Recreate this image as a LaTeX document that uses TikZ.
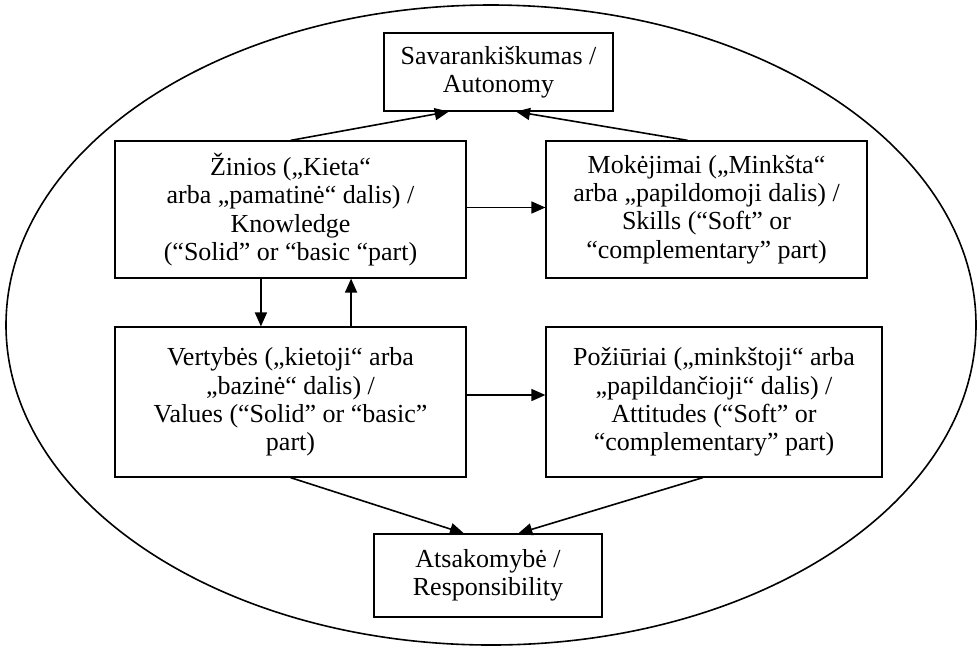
\documentclass[tikz,border=0pt]{standalone}
\usepackage{fontspec}
\setmainfont{Liberation Serif}
\usepackage{tikz}
\usetikzlibrary{arrows.meta,calc,positioning}

\begin{document}
\begin{tikzpicture}[
	x=0.5pt, y=-0.5pt,
	every node/.style={draw, line width=0.6pt, align=center, inner sep=2pt, font=\fontsize{13pt}{14.2pt}\selectfont},
	link/.style={line width=0.8pt, -{Triangle[length=7pt, width=6pt]}},
	oval/.style={line width=0.8pt}
	]
	\useasboundingbox (0,0) rectangle (980,650);
	\draw[oval] (491,325) ellipse [x radius=485, y radius=320];
	\node[minimum width=114.5pt, minimum height=39pt] (auto) at (498.5,72) {Savarankiškumas /\\Autonomy};
	\node[minimum width=175.5pt, minimum height=68.5pt] (know) at (290.5,209.5) {Žinios („Kieta“\\arba „pamatinė“ dalis) /\\Knowledge\\(“Solid” or “basic “part)};
	\node[minimum width=160.5pt, minimum height=68.5pt] (skill) at (706.5,209.5) {Mokėjimai („Minkšta“\\arba „papildomoji dalis) /\\Skills (“Soft” or\\“complementary” part)};
	\node[minimum width=175.5pt, minimum height=75pt] (value) at (290.5,402) {Vertybės („kietoji“ arba\\„bazinė“ dalis) /\\Values (“Solid” or “basic”\\part)};
	\node[minimum width=168pt, minimum height=75pt] (attit) at (714,402) {Požiūriai („minkštoji“ arba\\„papildančioji“ dalis) /\\Attitudes (“Soft” or\\“complementary” part)};
	\node[minimum width=114pt, minimum height=41.5pt] (resp) at (488,575.5) {Atsakomybė /\\Responsibility};
	\draw[link] (know.north) -- ($(auto.south west)!0.284!(auto.south east)$);
	\draw[link] ($(skill.north west)!0.442!(skill.north east)$) -- ($(auto.south west)!0.576!(auto.south east)$);
	\draw[link] ([yshift=1pt]know.east) -- ([yshift=1pt]skill.west);
	\draw[link] ($(know.south west)!0.416!(know.south east)$) -- ($(value.north west)!0.416!(value.north east)$);
	\draw[link] ($(value.north west)!0.672!(value.north east)$) -- ($(know.south west)!0.672!(know.south east)$);
	\draw[link] ([yshift=3.5pt]value.east) -- ([yshift=3.5pt]attit.west);
	\draw[link] (value.south) -- ($(resp.north west)!0.395!(resp.north east)$);
	\draw[link] ($(attit.south west)!0.467!(attit.south east)$) -- ($(resp.north west)!0.632!(resp.north east)$);
\end{tikzpicture}
\end{document}
